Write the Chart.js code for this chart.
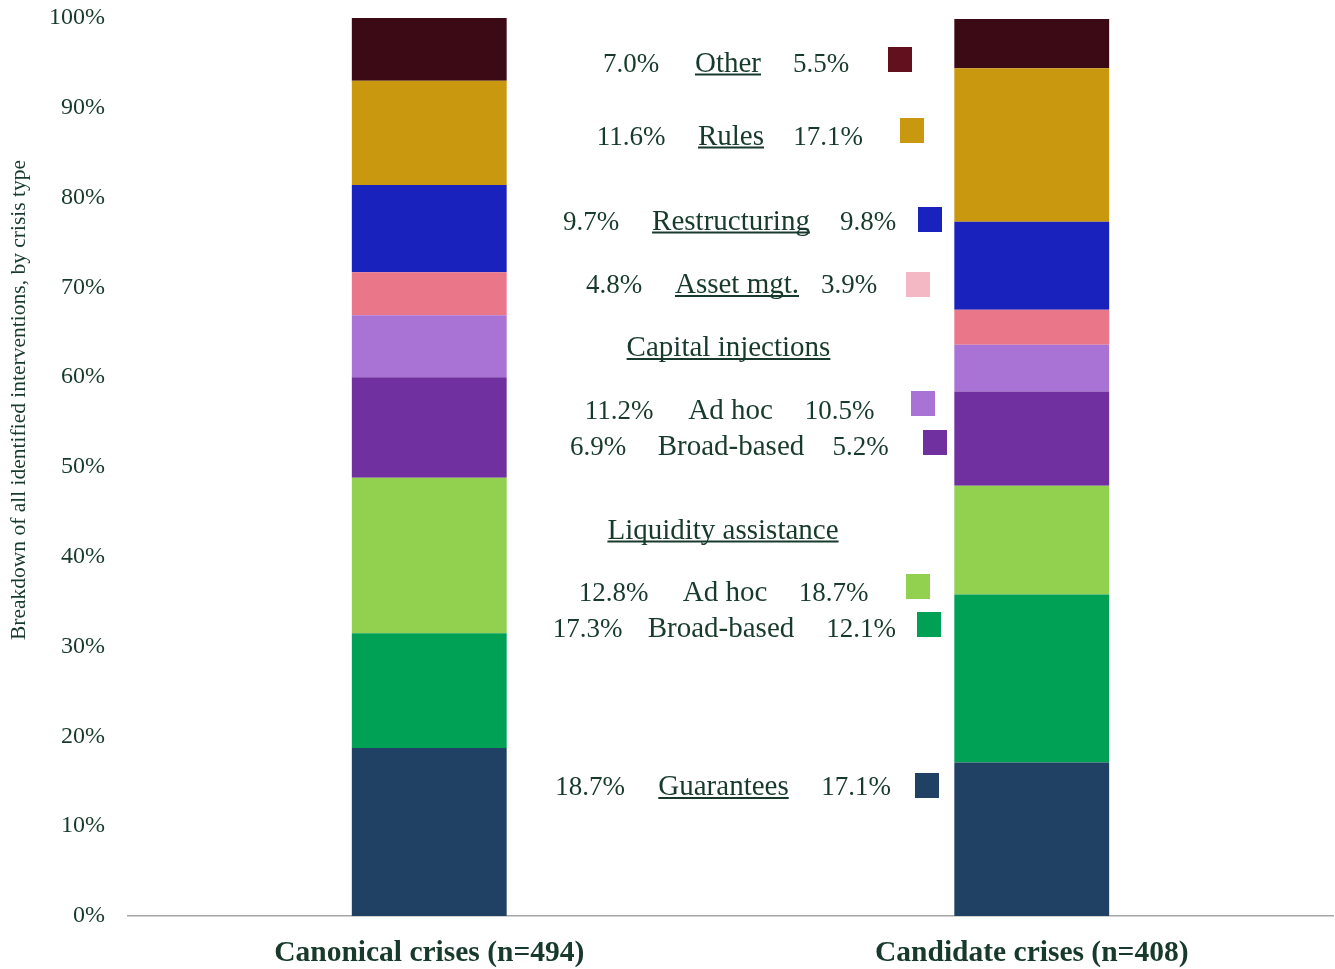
<!DOCTYPE html>
<html>
<head>
<meta charset="utf-8">
<script src="https://cdn.jsdelivr.net/npm/chart.js@4/dist/chart.umd.min.js"></script>
<style>
  html, body { margin: 0; padding: 0; background: #fff; }
  #wrap { width: 1335px; height: 969px; }
</style>
</head>
<body>
<div id="wrap"><canvas id="crisisChart" width="1335" height="969"></canvas></div>
<script>
// datos (porcentaje de intervenciones)
const categories = ['Canonical crises (n=494)', 'Candidate crises (n=408)'];
const guarantees = [18.7, 17.1];
const liquidityAdHoc = [12.8, 18.7];
const liquidityBroad = [17.3, 12.1];
const capitalAdHoc = [11.2, 10.5];
const capitalBroad = [6.9, 5.2];
const assetMgt = [4.8, 3.9];
const restructuring = [9.7, 9.8];
const rules = [11.6, 17.1];
const other = [7.0, 5.5];
const yTicks = [0, 10, 20, 30, 40, 50, 60, 70, 80, 90, 100];

// filas del cuadro de texto central (de arriba hacia abajo)
const rowLabels = ['Other', 'Rules', 'Restructuring', 'Asset mgt.', 'Capital injections',
  'Ad hoc', 'Broad-based', 'Liquidity assistance', 'Ad hoc', 'Broad-based', 'Guarantees'];
const rowValues = [other, rules, restructuring, assetMgt, null,
  capitalAdHoc, capitalBroad, null, liquidityAdHoc, liquidityBroad, guarantees];

const textColor = '#173a2c';
const serif = '"Liberation Serif", "DejaVu Serif", serif';

// posiciones del cuadro de texto: [centroY, xIzq, xEtiqueta, xDer, cuadroX, cuadroY, subrayado]
const rowLayout = [
  [62, 631, 728, 821, 888, 47, true],
  [135, 631, 731, 828, 900, 118, true],
  [220, 591, 731, 868, 918, 207, true],
  [283.5, 614, 737, 849, 906, 272, true],
  [346.5, 0, 728.5, 0, 0, 0, true],
  [409, 619, 730.5, 839.5, 911, 391, false],
  [445.5, 598, 731, 860.5, 923, 430, false],
  [529, 0, 723, 0, 0, 0, true],
  [591.5, 613.5, 725, 833.5, 906, 574, false],
  [627.5, 587.5, 721, 861, 917, 612, false],
  [785.5, 590, 723.5, 856, 915, 773, true]
];
const swatchColors = ['#62101e', '#c9980f', '#1a22be', '#f4b8c4', null,
  '#a973d6', '#7030a0', null, '#92d050', '#00a055', '#204064'];

const boxTextPlugin = {
  id: 'boxText',
  afterDraw(chart) {
    const ctx = chart.ctx;
    ctx.save();
    ctx.fillStyle = textColor;
    ctx.strokeStyle = textColor;
    ctx.textAlign = 'center';
    ctx.textBaseline = 'alphabetic';
    rowLabels.forEach((label, i) => {
      const [cy, xl, xm, xr, sx, sy, underline] = rowLayout[i];
      const base = cy + 9.5;
      ctx.font = '29px ' + serif;
      ctx.fillText(label, xm, base);
      if (underline) {
        const w = ctx.measureText(label).width;
        ctx.lineWidth = 2;
        ctx.beginPath();
        ctx.moveTo(xm - w / 2, base + 3);
        ctx.lineTo(xm + w / 2, base + 3);
        ctx.stroke();
      }
      const vals = rowValues[i];
      if (vals) {
        ctx.font = '27px ' + serif;
        ctx.fillText(vals[0].toFixed(1) + '%', xl, base);
        ctx.fillText(vals[1].toFixed(1) + '%', xr, base);
        ctx.fillStyle = swatchColors[i];
        ctx.fillRect(sx, sy, 24, 25);
        ctx.fillStyle = textColor;
      }
    });

    // titulo del eje y
    ctx.translate(19, 400);
    ctx.rotate(-Math.PI / 2);
    ctx.font = '21.5px ' + serif;
    ctx.textBaseline = 'middle';
    ctx.fillText('Breakdown of all identified interventions, by crisis type', 0, 0);
    ctx.restore();
  }
};

function makeSet(label, data, color) {
  return {
    label: label,
    data: data,
    backgroundColor: color,
    borderWidth: 0,
    barPercentage: 0.257,
    categoryPercentage: 1
  };
}

const ctx = document.getElementById('crisisChart');
new Chart(ctx, {
  type: 'bar',
  data: {
    labels: categories,
    datasets: [
      makeSet('Guarantees', guarantees, '#204064'),
      makeSet('Liquidity ad hoc', liquidityAdHoc, '#00a055'),
      makeSet('Liquidity broad-based', liquidityBroad, '#92d050'),
      makeSet('Capital ad hoc', capitalAdHoc, '#7030a0'),
      makeSet('Capital broad-based', capitalBroad, '#a973d6'),
      makeSet('Asset mgt.', assetMgt, '#ea7789'),
      makeSet('Restructuring', restructuring, '#1a22be'),
      makeSet('Rules', rules, '#c9980f'),
      makeSet('Other', other, '#3c0a14')
    ]
  },
  options: {
    responsive: false,
    animation: false,
    layout: { padding: { top: 18, right: 2, left: 0, bottom: 0 } },
    plugins: {
      legend: { display: false },
      tooltip: { enabled: false }
    },
    scales: {
      x: {
        stacked: true,
        grid: { display: false },
        border: { display: true, color: '#a6a6a6', width: 1.5 },
        ticks: {
          color: textColor,
          padding: 12,
          font: { family: serif, size: 29.5, weight: 'bold' }
        },
        afterFit: function(scale) { scale.height = 53; }
      },
      y: {
        stacked: true,
        min: 0,
        max: 100,
        grid: { display: false },
        border: { display: false },
        afterBuildTicks: function(scale) { scale.ticks = yTicks.map(v => ({ value: v })); },
        ticks: {
          color: textColor,
          padding: 15,
          font: { family: serif, size: 24 },
          callback: function(value) { return value + '%'; }
        },
        afterFit: function(scale) {
          scale.width = 128;
          scale.paddingTop = 0;
          scale.paddingBottom = 0;
        }
      }
    }
  },
  plugins: [boxTextPlugin]
});
</script>
</body>
</html>
